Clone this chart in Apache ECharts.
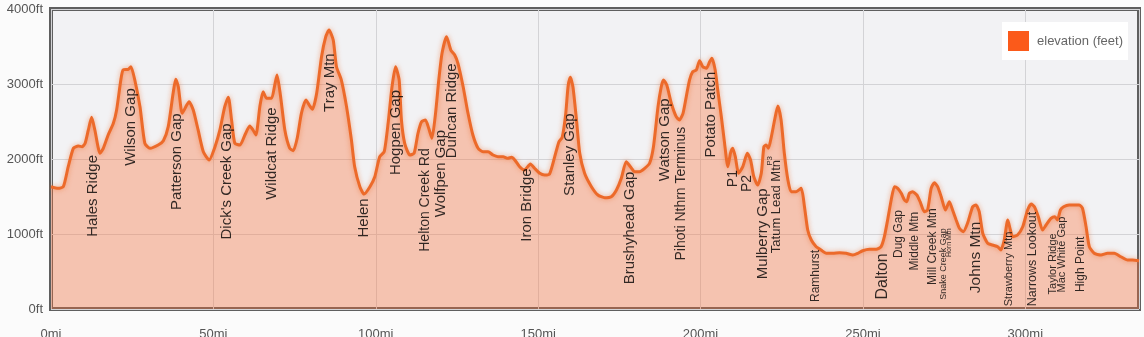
<!DOCTYPE html>
<html>
<head>
<meta charset="utf-8">
<title>Trail elevation profile</title>
<script src="https://cdn.jsdelivr.net/npm/echarts@6/dist/echarts.min.js"></script>
<style>
  html, body { margin: 0; padding: 0; background: #fbfbfb; }
  #chart { width: 1144px; height: 337px; }
</style>
</head>
<body>
<div id="chart"></div>
<script>
// Distance along the trail (miles) and elevation (feet)
const miles = [
  0, 2.2, 3.8, 5.3, 6.9, 8.4, 9.6, 10.5, 11.5, 12.5, 13.5, 15.1, 16.1, 17.6, 19.2, 20.2,
  21.5, 22.2, 23.8, 24.6, 25.8, 27.4, 28.9, 30.5, 33.0, 34.6, 36.1, 37.6, 38.4, 39.2,
  40.4, 41.8, 42.5, 43.8, 45.3, 46.9, 48.7, 50.5, 52.0, 53.5, 54.6, 55.6, 56.6, 58.2,
  59.7, 61.2, 62.2, 63.1, 64.3, 65.3, 66.4, 67.9, 68.9, 69.6, 70.7, 72.0, 73.5, 74.6,
  75.8, 77.1, 78.5, 79.5, 80.5, 81.8, 83.3, 84.6, 85.6, 86.9, 87.9, 89.4, 91.0, 92.5,
  93.5, 95.1, 96.4, 98.2, 99.7, 101.2, 102.6, 103.8, 105.0, 106.1, 107.2, 107.9, 108.9,
  110.5, 111.8, 113.0, 114.1, 115.3, 116.3, 117.3, 118.4, 119.4, 120.4, 121.8, 123.1,
  124.3, 125.3, 126.9, 128.4, 129.9, 131.5, 133.0, 134.6, 136.1, 137.6, 139.2, 140.7,
  141.8, 142.8, 144.3, 145.8, 147.6, 148.9, 150.5, 152.0, 153.5, 155.1, 156.4, 157.4,
  158.5, 159.2, 159.9, 160.7, 161.8, 162.8, 164.3, 166.4, 168.4, 170.5, 172.5, 174.1,
  175.6, 177.1, 178.4, 179.7, 181.2, 182.8, 184.3, 185.5, 186.9, 187.9, 188.6, 189.6,
  191.0, 192.5, 193.5, 194.6, 195.6, 196.6, 197.6, 198.7, 199.7, 200.7, 201.8, 202.8,
  203.5, 204.5, 205.3, 206.4, 207.4, 208.4, 209.2, 209.9, 210.7, 211.7, 213.0, 214.4,
  215.4, 216.4, 217.6, 218.7, 219.5, 220.2, 220.9, 221.8, 222.8, 223.8, 224.8, 225.8,
  226.9, 227.9, 229.4, 231.0, 232.0, 233.0, 234.1, 235.6, 237.1, 238.7, 240.7, 242.8,
  244.8, 246.9, 248.4, 249.9, 252.0, 254.1, 255.6, 256.6, 257.6, 258.7, 259.7, 260.7,
  261.8, 262.8, 263.5, 264.3, 265.3, 266.6, 267.6, 268.9, 269.9, 271.0, 272.0, 273.0,
  274.1, 275.4, 276.6, 277.6, 278.7, 279.7, 280.9, 282.2, 283.8, 284.8, 285.8, 286.9,
  288.4, 289.9, 291.5, 292.5, 293.5, 294.6, 295.4, 296.1, 297.6, 299.2, 300.7, 301.8,
  302.8, 304.0, 305.3, 306.4, 307.9, 309.1, 309.9, 310.8, 311.8, 313.5, 315.1, 316.6,
  317.6, 318.7, 319.7, 321.2, 323.3, 325.3, 327.4, 329.4, 331.5, 333.0, 335
];
const elevations = [
  1630, 1609, 1631, 1897, 2143, 2173, 2164, 2209, 2387, 2556, 2387, 2076, 2143, 2320, 2476, 2653,
  3053, 3187, 3196, 3231, 3053, 2697, 2209, 2143, 2187, 2244, 2431, 2876, 3063, 2964,
  2609, 2720, 2764, 2653, 2387, 2097, 1987, 2164, 2387, 2697, 2823, 2520, 2209, 2187,
  2320, 2440, 2387, 2320, 2697, 2897, 2809, 2809, 2987, 3120, 2831, 2387, 2143, 2111,
  2276, 2609, 2787, 2720, 2663, 2876, 3364, 3631, 3720, 3587, 3231, 3053, 2697, 2253,
  1897, 1631, 1533, 1631, 1764, 2031, 2097, 2476, 2964, 3231, 3053, 2520, 2209,
  2053, 2076, 2343, 2497, 2520, 2409, 2276, 2609, 3053, 3409, 3631, 3453,
  3387, 3276, 2964, 2609, 2320, 2143, 2097, 2097, 2053, 2031, 2031, 2009,
  2023, 1987, 1897, 1853, 1933, 1876, 1809, 1787, 1800, 2031, 2231, 2289,
  2609, 2964, 3089, 2964, 2520, 2076, 1809, 1631, 1520, 1484, 1497, 1587,
  1743, 1964, 1897, 1831, 1831, 1876, 1943, 2164, 2697, 2964, 3053, 2987,
  2743, 2564, 2520, 2609, 2831, 3053, 3164, 3187, 3311, 3231, 3209, 3297,
  3343, 3187, 2920, 2564, 2209, 1897, 2076, 2143, 2031, 1809, 1897, 2076,
  1987, 1764, 1653, 1809, 2164, 2187, 2143, 2297, 2520, 2707, 2520, 2076,
  1720, 1564, 1564, 1609, 1364, 1053, 920, 831, 787, 743, 743, 751,
  743, 720, 743, 777, 796, 796, 831, 964, 1187, 1453, 1631, 1609,
  1543, 1453, 1431, 1543, 1564, 1520, 1431, 1297, 1320, 1609, 1684, 1631,
  1497, 1320, 1431, 1320, 1187, 1076, 1031, 1143, 1364, 1387, 1297, 1009,
  876, 853, 831, 787, 920, 1187, 1053, 964, 987, 1097, 1320, 1400,
  1364, 1231, 1053, 1120, 1209, 1231, 1187, 1320, 1364, 1387, 1387, 1387,
  1343, 1097, 831, 743, 720, 743, 743, 697, 653, 653, 644
];

// Named places along the trail: mile and the elevation where the label starts
const placeNames = [
  'Hales Ridge', 'Wilson Gap', 'Patterson Gap', "Dick's Creek Gap", 'Wildcat Ridge', 'Tray Mtn',
  'Helen', 'Hogpen Gap', 'Helton Creek Rd', 'Wolfpen Gap', 'Duncan Ridge', 'Iron Bridge',
  'Stanley Gap', 'Brushyhead Gap', 'Watson Gap', 'Pihoti Nthrn Terminus', 'Potato Patch',
  'P1', 'P2', 'Mulberry Gap', 'Tatum Lead Mtn', 'P3', 'Ramhurst', 'Dalton', 'Dug Gap',
  'Middle Mtn', 'Mill Creek Mtn', 'Snake Creek Gap', 'Horn Mtn', 'Johns Mtn',
  'Strawberry Mtn', 'Narrows Lookout', 'Taylor Ridge', 'Mac White Gap', 'High Point'
];
const placeMiles = [
  12.8, 24.5, 38.7, 54.2, 68.1, 85.8,
  96.4, 106.1, 115.1, 120.0, 123.5, 146.6,
  159.7, 178.2, 188.9, 194.1, 203.1,
  209.9, 214.4, 219.2, 223.3, 221.4, 235.6, 256.1, 261.0,
  265.8, 271.5, 274.8, 276.6, 284.8,
  294.9, 302.2, 308.4, 311.2, 316.9
];
const placeElevations = [
  2053, 2943, 2609, 2476, 2689, 3409,
  1476, 2920, 2143, 2387, 3276, 1876,
  2609, 1831, 2809, 2431, 3164,
  1853, 1787, 1609, 1987, 2040, 787, 743, 1320,
  1297, 1343, 1076, 1076, 1164,
  1031, 1297, 1009, 1231, 964
];

// Text sizes for the place labels (px); anything not listed uses the default
const LABEL_SIZE_DEFAULT = 15;
const labelSize = {
  'Helton Creek Rd': 14, 'Pihoti Nthrn Terminus': 14, 'P1': 14, 'P2': 14,
  'Tatum Lead Mtn': 13, 'P3': 8, 'Ramhurst': 12, 'Dalton': 16, 'Dug Gap': 12,
  'Middle Mtn': 12, 'Mill Creek Mtn': 12, 'Snake Creek Gap': 9, 'Horn Mtn': 7,
  'Johns Mtn': 15.5, 'Strawberry Mtn': 11, 'Narrows Lookout': 12.5,
  'Taylor Ridge': 11, 'Mac White Gap': 11, 'High Point': 12
};

const FONT = '"Liberation Sans", Arial, Helvetica, sans-serif';

const profile = miles.map((m, i) => [m, elevations[i]]);
const places = placeNames.map((name, i) => ({
  name: name,
  value: [placeMiles[i], placeElevations[i]],
  label: { fontSize: labelSize[name] || LABEL_SIZE_DEFAULT }
}));

const chart = echarts.init(document.getElementById('chart'), null, { renderer: 'canvas' });

chart.setOption({
  animation: false,
  backgroundColor: '#fbfbfb',
  textStyle: { fontFamily: FONT },
  grid: {
    left: 51, right: 5, top: 9, bottom: 28,
    outerBoundsMode: 'none',
    containLabel: false,
    show: true,
    backgroundColor: '#f2f2f4',
    borderColor: '#5f5f5f',
    borderWidth: 4
  },
  legend: {
    right: 16, top: 22,
    backgroundColor: '#ffffff',
    padding: [9, 5, 9, 6],
    itemWidth: 21, itemHeight: 20,
    textStyle: { color: '#666', fontSize: 13, fontFamily: FONT, padding: [0, 0, 0, 3] },
    data: [{ name: 'elevation (feet)', icon: 'rect', itemStyle: { color: '#fb5a1a', borderWidth: 0 } }]
  },
  xAxis: {
    type: 'value',
    min: 0, max: 335, interval: 50,
    axisLine: { show: false },
    axisTick: { show: false },
    axisLabel: {
      color: '#555', fontSize: 13, fontFamily: FONT, margin: 19,
      formatter: v => (v % 50 === 0 ? v + 'mi' : '')
    },
    splitLine: { show: true, lineStyle: { color: '#d3d3d6', width: 1 } }
  },
  yAxis: {
    type: 'value',
    min: 0, max: 4000, interval: 1000,
    axisLine: { show: false },
    axisTick: { show: false },
    axisLabel: { color: '#555', fontSize: 13, fontFamily: FONT, margin: 8, formatter: v => v + 'ft' },
    splitLine: { show: true, lineStyle: { color: '#d3d3d6', width: 1 } }
  },
  series: [
    {
      name: 'elevation (feet)',
      type: 'line',
      data: profile,
      smooth: 0.2,
      showSymbol: false,
      symbol: 'none',
      itemStyle: { color: '#fb5a1a' },
      lineStyle: {
        color: '#ec6a2a', width: 3,
        shadowBlur: 5, shadowColor: 'rgba(238,106,40,0.55)'
      },
      areaStyle: { color: 'rgba(250,112,58,0.52)', origin: 'start' },
      z: 2
    },
    {
      name: 'places',
      type: 'scatter',
      data: places,
      symbol: 'circle',
      symbolSize: 1,
      itemStyle: { color: 'transparent' },
      silent: true,
      label: {
        show: true,
        position: 'inside',
        rotate: 90,
        align: 'right',
        verticalAlign: 'middle',
        color: '#000',
        fontFamily: FONT,
        formatter: p => p.name
      },
      z: 5
    }
  ]
});
</script>
</body>
</html>
